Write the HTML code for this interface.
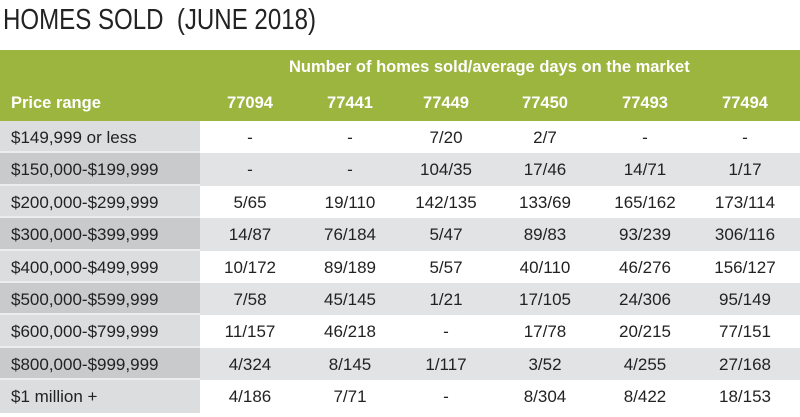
<!DOCTYPE html><html><head><style>
body{margin:0;width:800px;height:417px;background:#fff;font-family:"Liberation Sans",sans-serif;position:relative;overflow:hidden}
.t{position:absolute;left:3px;top:4px;font-size:29px;color:#222;transform:scaleX(0.83);transform-origin:0 0;white-space:nowrap}
.g{position:absolute;left:0;top:50px;width:800px;height:71px;background:#9bb53f}
.h{position:absolute;color:#fff;font-weight:bold;font-size:16.5px}
.r{position:absolute;left:0;width:800px;height:32.4px;font-size:17px;color:#222}
.r .l{position:absolute;left:0;top:0;width:200px;height:100%;background:#dcdddf;border-bottom:2px solid #eceded;box-sizing:border-box;padding-left:11px;line-height:33px}
.r.o .l{background:#c9cacc}
.r.o{background:#e2e3e5}
.r span{position:absolute;top:0;line-height:33px;width:100px;text-align:center}
</style></head><body>
<div class="t">HOMES SOLD&nbsp; (JUNE 2018)</div>
<div class="g"></div>
<div class="h" style="left:289px;top:58px">Number of homes sold/average days on the market</div>
<div class="h" style="left:11px;top:94px">Price range</div>
<div class="h" style="left:200px;top:94px;width:100px;text-align:center">77094</div>
<div class="h" style="left:300px;top:94px;width:100px;text-align:center">77441</div>
<div class="h" style="left:396px;top:94px;width:100px;text-align:center">77449</div>
<div class="h" style="left:495px;top:94px;width:100px;text-align:center">77450</div>
<div class="h" style="left:595px;top:94px;width:100px;text-align:center">77493</div>
<div class="h" style="left:695px;top:94px;width:100px;text-align:center">77494</div>
<div class="r" style="top:121px"><div class="l">$149,999 or less</div><span style="left:200px">-</span><span style="left:300px">-</span><span style="left:396px">7/20</span><span style="left:495px">2/7</span><span style="left:595px">-</span><span style="left:695px">-</span></div>
<div class="r o" style="top:153.4px"><div class="l">$150,000-$199,999</div><span style="left:200px">-</span><span style="left:300px">-</span><span style="left:396px">104/35</span><span style="left:495px">17/46</span><span style="left:595px">14/71</span><span style="left:695px">1/17</span></div>
<div class="r" style="top:185.8px"><div class="l">$200,000-$299,999</div><span style="left:200px">5/65</span><span style="left:300px">19/110</span><span style="left:396px">142/135</span><span style="left:495px">133/69</span><span style="left:595px">165/162</span><span style="left:695px">173/114</span></div>
<div class="r o" style="top:218.2px"><div class="l">$300,000-$399,999</div><span style="left:200px">14/87</span><span style="left:300px">76/184</span><span style="left:396px">5/47</span><span style="left:495px">89/83</span><span style="left:595px">93/239</span><span style="left:695px">306/116</span></div>
<div class="r" style="top:250.6px"><div class="l">$400,000-$499,999</div><span style="left:200px">10/172</span><span style="left:300px">89/189</span><span style="left:396px">5/57</span><span style="left:495px">40/110</span><span style="left:595px">46/276</span><span style="left:695px">156/127</span></div>
<div class="r o" style="top:283px"><div class="l">$500,000-$599,999</div><span style="left:200px">7/58</span><span style="left:300px">45/145</span><span style="left:396px">1/21</span><span style="left:495px">17/105</span><span style="left:595px">24/306</span><span style="left:695px">95/149</span></div>
<div class="r" style="top:315.4px"><div class="l">$600,000-$799,999</div><span style="left:200px">11/157</span><span style="left:300px">46/218</span><span style="left:396px">-</span><span style="left:495px">17/78</span><span style="left:595px">20/215</span><span style="left:695px">77/151</span></div>
<div class="r o" style="top:347.8px"><div class="l">$800,000-$999,999</div><span style="left:200px">4/324</span><span style="left:300px">8/145</span><span style="left:396px">1/117</span><span style="left:495px">3/52</span><span style="left:595px">4/255</span><span style="left:695px">27/168</span></div>
<div class="r" style="top:380.2px"><div class="l" style="border-bottom:none">$1 million +</div><span style="left:200px">4/186</span><span style="left:300px">7/71</span><span style="left:396px">-</span><span style="left:495px">8/304</span><span style="left:595px">8/422</span><span style="left:695px">18/153</span></div>
</body></html>
